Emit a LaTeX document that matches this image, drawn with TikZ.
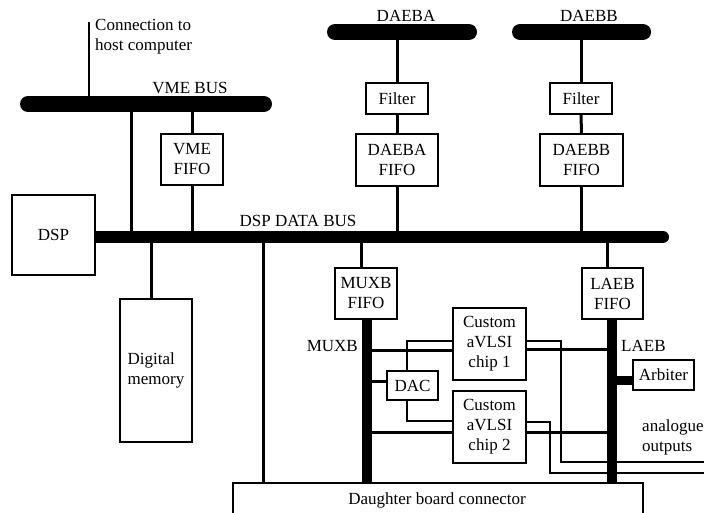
\documentclass[tikz,border=0pt]{standalone}
\usepackage{fontspec}
\setmainfont{Liberation Serif}
\usetikzlibrary{positioning, calc}
\tikzset{
  blockbox/.style = {draw, line width=1.2pt, fill=white, inner sep=0pt,
                     align=center, font=\fontsize{17}{20}\selectfont},
  lbl/.style      = {inner sep=0pt, font=\fontsize{17}{20}\selectfont},
  bigbus/.style   = {line width=16pt, line cap=round},
  databus/.style  = {line width=12pt, line cap=round},
  chipbus/.style  = {line width=10pt},
  link/.style     = {line width=3pt},
  wire/.style     = {line width=1.2pt},
}

\begin{document}
\begin{tikzpicture}[x=1pt, y=-1pt]
    \useasboundingbox (0,0) rectangle (704,512);

    % --- boxes ---
    \node[blockbox, minimum width=83pt, minimum height=80pt] (dsp) at (53.5,235) {DSP};
    \node[blockbox, minimum width=62pt, minimum height=51pt] (vmefifo) at (192,159.5) {VME\\FIFO};
    \node[blockbox, minimum width=62pt, minimum height=31pt] (filtera) at (397,98.5) {Filter};
    \node[blockbox, minimum width=82pt, minimum height=52pt] (daebafifo) at (397,160) {DAEBA\\FIFO};
    \node[blockbox, minimum width=62pt, minimum height=31pt] (filterb) at (581,98.5) {Filter};
    \node[blockbox, minimum width=83pt, minimum height=52pt] (daebbfifo) at (581.5,160) {DAEBB\\FIFO};
    \node[blockbox, minimum width=72pt, minimum height=143pt, align=left] (mem) at (156,370.5) {Digital\\memory};
    \node[blockbox, minimum width=62pt, minimum height=51pt] (muxbfifo) at (366,293.5) {MUXB\\FIFO};
    \node[blockbox, minimum width=61pt, minimum height=51pt] (laebfifo) at (612.5,293.5) {LAEB\\FIFO};
    \node[blockbox, minimum width=73pt, minimum height=72pt] (chipa) at (489.5,344) {Custom\\aVLSI\\chip 1};
    \node[blockbox, minimum width=73pt, minimum height=72pt] (chipb) at (489.5,427) {Custom\\aVLSI\\chip 2};
    \node[blockbox, minimum width=51pt, minimum height=29pt] (dac) at (412.5,385.5) {DAC};
    \node[blockbox, minimum width=61pt, minimum height=30pt] (arbiter) at (663.5,375) {Arbiter};
    \node[blockbox, minimum width=410pt, minimum height=32pt] (dbc) at (438,499) {};
    \node[lbl] (dbclbl) at (437,500) {Daughter board connector};

    % --- bus end points ---
    \coordinate (host) at (89,22);
    \coordinate (vmeL) at (28,104);   \coordinate (vmeR) at (264,104);
    \coordinate (daebaL) at (335,32); \coordinate (daebaR) at (469,32);
    \coordinate (daebbL) at (520,32); \coordinate (daebbR) at (643,32);
    \coordinate (dataL) at (95,237);  \coordinate (dataR) at (663,237);
    \coordinate (outa) at (704,462);  \coordinate (outb) at (704,473);

    % --- wires from the chips ---
    \draw[wire] (dac.north -| 407,0) |- (chipa.west |- 0,341);
    \draw[wire] (chipa.east |- 0,341) -| (561,462) -- (outa);
    \draw[wire] (dac.south -| 407,0) |- (chipb.west |- 0,421);
    \draw[wire] (chipb.east |- 0,422) -| (550,473) -- (outb);

    % --- links ---
    \draw[line width=2pt] (host) -- (89,104);
    \draw[link] (131,104) -- (131,237);
    \draw[link] (vmefifo.north |- vmeL) -- (vmefifo.north);
    \draw[link] (vmefifo.south) -- (vmefifo.south |- dataL);
    \draw[link] (filtera.north |- daebaL) -- (filtera.north);
    \draw[link] (filtera.south) -- (daebafifo.north);
    \draw[link] (daebafifo.south) -- (daebafifo.south |- dataL);
    \draw[link] (filterb.north |- daebbL) -- (filterb.north);
    \draw[link] (filterb.south) -- (daebbfifo.north);
    \draw[link] (daebbfifo.south) -- (daebbfifo.south |- dataL);
    \draw[link] (151,237) -- (mem.north -| 151,0);
    \draw[link] (263,237) -- (dbc.north -| 263,0);
    \draw[link] (361,237) -- (muxbfifo.north -| 361,0);
    \draw[link] (607,237) -- (laebfifo.north -| 607,0);
    \draw[link] (367,350) -- (chipa.west |- 0,350);
    \draw[link] (chipa.east |- 0,349) -- (612,349);
    \draw[link] (367,432) -- (chipb.west |- 0,432);
    \draw[link] (chipb.east |- 0,432) -- (612,432);
    \draw[link] (367,381) -- (dac.west |- 0,381);
    \draw[line width=9pt] (612,380) -- (arbiter.west |- 0,380);

    % --- buses ---
    \draw[bigbus] (vmeL) -- (vmeR);
    \draw[bigbus] (daebaL) -- (daebaR);
    \draw[bigbus] (daebbL) -- (daebbR);
    \draw[databus] (dataL) -- (dataR);
    \draw[chipbus] (muxbfifo.south -| 367,0) -- (dbc.north -| 367,0);
    \draw[chipbus] (laebfifo.south -| 612,0) -- (dbc.north -| 612,0);

    % --- DSP box again, over the bus end ---
    \node[blockbox, minimum width=83pt, minimum height=80pt] (dsptop) at (dsp) {DSP};

    % --- labels ---
    \node[lbl, anchor=west, align=left] (hostlbl) at (95,37) {Connection to\\host computer};
    \node[lbl] (vmelbl) at (190,88) {VME BUS};
    \node[lbl] (datalbl) at (298,221) {DSP DATA BUS};
    \node[lbl] (daebalbl) at (406,16) {DAEBA};
    \node[lbl] (daebblbl) at (589,16) {DAEBB};
    \node[lbl, anchor=east] (muxblbl) at (358,346) {MUXB};
    \node[lbl, anchor=west] (laeblbl) at (621,346) {LAEB};
    \node[lbl, anchor=west, align=left] (outlbl) at (642,437) {analogue\\outputs};
\end{tikzpicture}
\end{document}
